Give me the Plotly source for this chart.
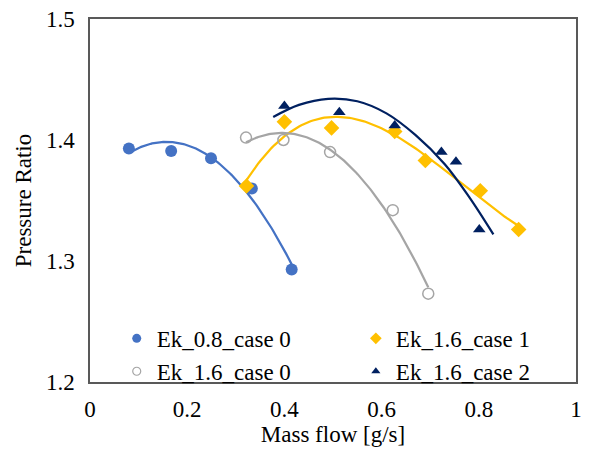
import numpy as np
import plotly.graph_objects as go

# ---- data ----
names = ["Ek_0.8_case 0", "Ek_1.6_case 1", "Ek_1.6_case 0", "Ek_1.6_case 2"]

ek08_c0_x = [0.080, 0.167, 0.249, 0.333, 0.415]
ek08_c0_y = [1.393, 1.391, 1.385, 1.360, 1.293]

ek16_c0_x = [0.321, 0.398, 0.494, 0.623, 0.696]
ek16_c0_y = [1.402, 1.400, 1.390, 1.342, 1.273]

ek16_c1_x = [0.322, 0.400, 0.497, 0.627, 0.690, 0.803, 0.882]
ek16_c1_y = [1.362, 1.415, 1.410, 1.407, 1.383, 1.358, 1.326]

ek16_c2_x = [0.400, 0.513, 0.627, 0.723, 0.753, 0.801]
ek16_c2_y = [1.428, 1.423, 1.412, 1.390, 1.382, 1.326]

# trend curve of Ek_1.6_case 2
ek16_c2_trend_x = [0.377, 0.43, 0.49, 0.55, 0.61, 0.67, 0.73, 0.78, 0.83]
ek16_c2_trend_y = [1.419, 1.429, 1.434, 1.432, 1.422, 1.404, 1.380, 1.353, 1.322]

x_ticks = [0, 0.2, 0.4, 0.6, 0.8, 1]
x_tick_text = ["0", "0.2", "0.4", "0.6", "0.8", "1"]
y_ticks = [1.2, 1.3, 1.4, 1.5]
y_tick_text = ["1.2", "1.3", "1.4", "1.5"]

colors = ["#4472C4", "#FFC000", "#A5A5A5", "#002060"]
FONT = "Liberation Serif"
FS = 23

fig = go.Figure()

# polynomial trendlines fitted to the points: (x, y, order, drawn x-range)
trend_specs = [
    (ek08_c0_x, ek08_c0_y, 2, (0.080, 0.415), colors[0]),
    (ek16_c1_x, ek16_c1_y, 3, (0.322, 0.882), colors[1]),
    (ek16_c0_x, ek16_c0_y, 2, (0.321, 0.696), colors[2]),
]
for xs, ys, order, (x0, x1), c in trend_specs:
    coef = np.polyfit(xs, ys, order)
    tx = np.linspace(x0, x1, 120)
    fig.add_trace(go.Scatter(x=tx, y=np.polyval(coef, tx), mode="lines",
                             line=dict(color=c, width=2.25),
                             showlegend=False, hoverinfo="skip"))
fig.add_trace(go.Scatter(x=ek16_c2_trend_x, y=ek16_c2_trend_y, mode="lines",
                         line=dict(color=colors[3], width=2.25, shape="spline"),
                         showlegend=False, hoverinfo="skip"))

# markers
marker_styles = [
    dict(symbol="circle", size=12, color="#4472C4"),
    dict(symbol="diamond", size=12, color="#FFC000"),
    dict(symbol="circle-open", size=11, color="#A5A5A5", line=dict(width=1.5)),
    dict(symbol="triangle-up", size=11, color="#002060"),
]
series = [(ek08_c0_x, ek08_c0_y), (ek16_c1_x, ek16_c1_y),
          (ek16_c0_x, ek16_c0_y), (ek16_c2_x, ek16_c2_y)]
for (xs, ys), ms, nm in zip(series, marker_styles, names):
    fig.add_trace(go.Scatter(x=xs, y=ys, mode="markers", marker=ms,
                             name=nm, showlegend=False))

# legend entries (smaller symbols, like the reference), two columns
legend_styles = [
    dict(symbol="circle", size=9, color="#4472C4"),
    dict(symbol="diamond", size=9, color="#FFC000"),
    dict(symbol="circle-open", size=8, color="#A5A5A5", line=dict(width=1.2)),
    dict(symbol="triangle-up", size=8, color="#002060"),
]
legend_ids = ["legend", "legend2", "legend", "legend2"]
for ms, nm, lg in zip(legend_styles, names, legend_ids):
    fig.add_trace(go.Scatter(x=[None], y=[None], mode="markers", marker=ms,
                             name=nm, showlegend=True, legend=lg))

axis_common = dict(showgrid=False, zeroline=False, showline=True, mirror=True,
                   linecolor="#595959", linewidth=1.5, ticks="",
                   tickfont=dict(family=FONT, size=FS, color="#000000"))

legend_common = dict(orientation="v", xanchor="left", y=-0.03, yanchor="bottom",
                     font=dict(family=FONT, size=FS, color="#000000"),
                     bgcolor="rgba(0,0,0,0)", itemsizing="trace", tracegroupgap=0)

fig.update_layout(
    width=589, height=457,
    margin=dict(l=90, r=7, t=19, b=75),
    paper_bgcolor="white", plot_bgcolor="white",
    font=dict(family=FONT, size=FS, color="#000000"),
    xaxis=dict(range=[0, 1], tickvals=x_ticks, ticktext=x_tick_text,
               ticklabelstandoff=6,
               title=dict(text="Mass flow [g/s]", font=dict(family=FONT, size=FS), standoff=4),
               **axis_common),
    yaxis=dict(range=[1.2, 1.5], tickvals=y_ticks, ticktext=y_tick_text,
               ticklabelstandoff=9,
               title=dict(text="Pressure Ratio", font=dict(family=FONT, size=FS), standoff=8),
               **axis_common),
    legend=dict(x=0.055, **legend_common),
    legend2=dict(x=0.547, **legend_common),
)

fig.write_html("out.html")
